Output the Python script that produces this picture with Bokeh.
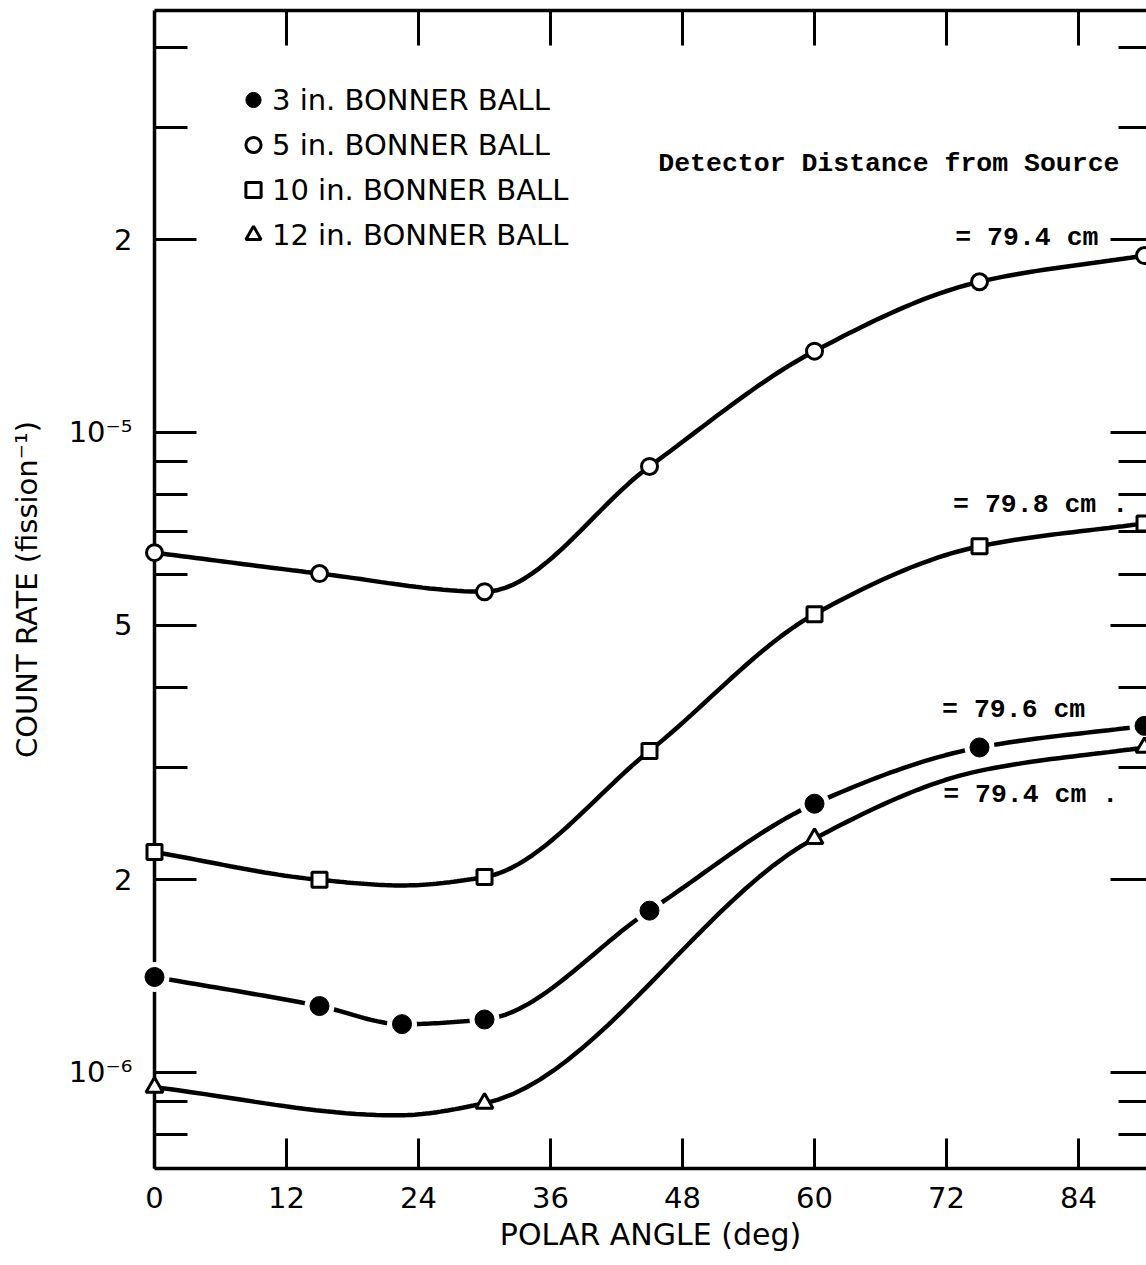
import numpy as np
from bokeh.plotting import figure
from bokeh.models import (Range1d, FixedTicker, LinearAxis, LogAxis, Legend,
                          LegendItem, Label, CustomJSTickFormatter)
from bokeh.embed import file_html
from bokeh.resources import INLINE

# ---------------- data ----------------
angles_3in = [0, 15, 22.5, 30, 45, 60, 75, 90]
rate_3in = [1.41e-6, 1.27e-6, 1.19e-6, 1.21e-6, 1.79e-6, 2.63e-6, 3.22e-6, 3.48e-6]

angles_5in = [0, 15, 30, 45, 60, 75, 90]
rate_5in = [6.49e-6, 6.02e-6, 5.64e-6, 8.85e-6, 1.34e-5, 1.72e-5, 1.89e-5]

angles_10in = [0, 15, 30, 45, 60, 75, 90]
rate_10in = [2.21e-6, 2.00e-6, 2.02e-6, 3.18e-6, 5.20e-6, 6.64e-6, 7.21e-6]

angles_12in = [0, 30, 60, 90]
rate_12in = [9.48e-7, 8.95e-7, 2.32e-6, 3.22e-6]

# extra points (between markers)
curve_angles_10in = [22.5]
curve_rate_10in = [1.96e-6]
curve_angles_12in = [22, 75]
curve_rate_12in = [8.57e-7, 2.96e-6]

series_labels = ["3 in. BONNER BALL", "5 in. BONNER BALL",
                 "10 in. BONNER BALL", "12 in. BONNER BALL"]

x_ticks = [0, 12, 24, 36, 48, 60, 72, 84]
y_major = [1e-6, 2e-6, 5e-6, 1e-5, 2e-5]
y_major_labels = ["10\u207b\u2076", "2", "5", "10\u207b\u2075", "2"]
y_minor = [8e-7, 9e-7, 3e-6, 4e-6, 6e-6, 7e-6, 8e-6, 9e-6, 3e-5, 4e-5]

header_text = "Detector Distance from Source"
distance_texts = ["= 79.4 cm", "= 79.8 cm .", "= 79.6 cm", "= 79.4 cm ."]
distance_x = [72.8, 72.6, 71.6, 71.7]
distance_y = [2.01e-5, 7.69e-6, 3.68e-6, 2.71e-6]

SANS = "DejaVu Sans"
MONO = "Liberation Mono"
INK = "black"


def smooth_curve(xs, ys, n=24):
    """Monotone cubic drawing of a hand-drawn curve through knots (log y)."""
    order = np.argsort(xs)
    x = np.asarray(xs, float)[order]
    y = np.log10(np.asarray(ys, float)[order])
    k = len(x)
    h = np.diff(x)
    d = np.diff(y) / h
    m = np.zeros(k)
    m[0], m[-1] = d[0], d[-1]
    for i in range(1, k - 1):
        if d[i - 1] * d[i] <= 0:
            m[i] = 0.0
        else:
            w1 = 2 * h[i] + h[i - 1]
            w2 = h[i] + 2 * h[i - 1]
            m[i] = (w1 + w2) / (w1 / d[i - 1] + w2 / d[i])
    px, py = [], []
    for i in range(k - 1):
        t = np.linspace(0, 1, n, endpoint=(i == k - 2))
        h00 = 2 * t**3 - 3 * t**2 + 1
        h10 = t**3 - 2 * t**2 + t
        h01 = -2 * t**3 + 3 * t**2
        h11 = t**3 - t**2
        px.extend(x[i] + t * h[i])
        py.extend(h00 * y[i] + h10 * h[i] * m[i] + h01 * y[i + 1] + h11 * h[i] * m[i + 1])
    return list(px), list(10 ** np.array(py))


X_END = 90.18
p = figure(width=1146, height=1265,
           x_range=Range1d(0, X_END),
           y_range=Range1d(7.079e-7, 4.564e-5),
           y_axis_type="log", output_backend="svg", toolbar_location=None,
           min_border_left=154, min_border_right=0, min_border_top=10,
           min_border_bottom=97)
p.outline_line_color = None
p.xgrid.visible = False
p.ygrid.visible = False
p.background_fill_color = "white"
p.border_fill_color = "white"

# ---- bottom axis
xa = p.xaxis[0]
xa.ticker = FixedTicker(ticks=x_ticks)
xa.axis_line_width = 3.5
xa.axis_line_color = INK
xa.major_tick_line_width = 3
xa.major_tick_line_color = INK
xa.major_tick_in = 30
xa.major_tick_out = 0
xa.minor_tick_line_color = None
xa.major_label_text_font = SANS
xa.major_label_text_font_size = "29px"
xa.major_label_text_color = INK
xa.major_label_standoff = 18
xa.axis_label = "POLAR ANGLE (deg)"
xa.axis_label_text_font = SANS
xa.axis_label_text_font_size = "30px"
xa.axis_label_text_font_style = "normal"
xa.axis_label_text_color = INK
xa.axis_label_standoff = 6

# ---- left axis
ya = p.yaxis[0]
ya.ticker = FixedTicker(ticks=y_major, minor_ticks=y_minor)
ya.major_label_overrides = dict(zip(y_major, y_major_labels))
ya.axis_line_width = 3.5
ya.axis_line_color = INK
ya.major_tick_line_width = 3
ya.minor_tick_line_width = 3
ya.major_tick_line_color = INK
ya.minor_tick_line_color = INK
ya.major_tick_in = 42
ya.major_tick_out = 0
ya.minor_tick_in = 33
ya.minor_tick_out = 0
ya.major_label_text_font = SANS
ya.major_label_text_font_size = "29px"
ya.major_label_text_color = INK
ya.major_label_standoff = 22
ya.axis_label = "COUNT RATE (fission\u207b\u00b9)"
ya.axis_label_text_font = SANS
ya.axis_label_text_font_size = "29px"
ya.axis_label_text_font_style = "normal"
ya.axis_label_text_color = INK
ya.axis_label_standoff = 22

# ---- top axis (ticks only)
top = LinearAxis(ticker=FixedTicker(ticks=x_ticks[1:]),
                 formatter=CustomJSTickFormatter(code="return ''"),
                 axis_line_width=3.5, axis_line_color=INK,
                 major_tick_line_width=3, major_tick_line_color=INK,
                 major_tick_in=35, major_tick_out=0,
                 minor_tick_line_color=None, major_label_standoff=0)
p.add_layout(top, "above")

# ---- right axis (ticks only; its spine lies beyond the picture)
right = LogAxis(ticker=FixedTicker(ticks=y_major, minor_ticks=y_minor),
                formatter=CustomJSTickFormatter(code="return ''"),
                axis_line_color=None, major_tick_line_width=3,
                minor_tick_line_width=3, major_tick_line_color=INK,
                minor_tick_line_color=INK, major_tick_in=36, major_tick_out=0,
                minor_tick_in=28, minor_tick_out=0, major_label_standoff=0)
p.add_layout(right, "right")

# ---- curves
for ax, ry, ex, ey in [(angles_5in, rate_5in, [], []),
                       (angles_10in, rate_10in, curve_angles_10in, curve_rate_10in),
                       (angles_3in, rate_3in, [], []),
                       (angles_12in, rate_12in, curve_angles_12in, curve_rate_12in)]:
    cx, cy = smooth_curve(list(ax) + list(ex), list(ry) + list(ey))
    p.line(cx, cy, line_width=4.5, line_color=INK)

# ---- markers
p.scatter(angles_3in, rate_3in, marker="circle", size=30, fill_color="white",
          line_color=None, level="overlay")
r3 = p.scatter(angles_3in, rate_3in, marker="circle", size=19,
               fill_color=INK, line_color=INK, level="overlay")
r5 = p.scatter(angles_5in, rate_5in, marker="circle", size=16,
               fill_color="white", line_color=INK, line_width=3,
               level="overlay")
r10 = p.scatter(angles_10in, rate_10in, marker="square", size=15,
                fill_color="white", line_color=INK, line_width=3,
                level="overlay")
r12 = p.scatter(angles_12in, rate_12in, marker="triangle", size=17,
                fill_color="white", line_color=INK, line_width=3,
                level="overlay")

legend = Legend(items=[LegendItem(label=series_labels[0], renderers=[r3]),
                       LegendItem(label=series_labels[1], renderers=[r5]),
                       LegendItem(label=series_labels[2], renderers=[r10]),
                       LegendItem(label=series_labels[3], renderers=[r12])],
                location=(80, 911), border_line_color=None,
                background_fill_alpha=0, padding=0, margin=0, spacing=0,
                glyph_width=38, glyph_height=45, label_height=45,
                label_standoff=0, label_text_font=SANS,
                label_text_font_size="29px", label_text_color=INK)
p.add_layout(legend)

# ---- annotations
p.add_layout(Label(x=45.8, y=2.63e-5, text=header_text, text_font=MONO,
                   text_font_size="26.5px", text_font_style="bold",
                   text_color=INK, text_baseline="middle", text_align="left"))
for t, lx, ly in zip(distance_texts, distance_x, distance_y):
    p.add_layout(Label(x=lx, y=ly, text=t, text_font=MONO,
                       text_font_size="26.5px", text_font_style="bold",
                       text_color=INK, text_baseline="middle",
                       text_align="left"))

open("out.html", "w").write(file_html(p, INLINE))
